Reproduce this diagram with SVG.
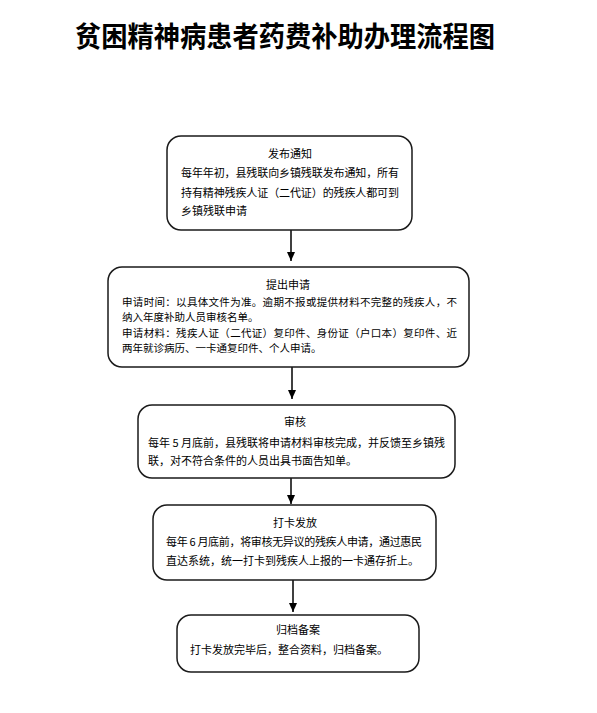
<svg xmlns="http://www.w3.org/2000/svg" width="597" height="713" viewBox="0 0 597 713">
<defs>
<style>
.box{fill:#fff;stroke:#1a1a1a;stroke-width:1.5}
.t{font-family:"Noto Sans CJK SC","Noto Sans CJK JP",sans-serif;font-size:11px;fill:#000}
.s{font-size:10.5px}
.c{text-anchor:middle}
.title{font-family:"Noto Sans CJK SC",sans-serif;font-size:28px;font-weight:bold;fill:#000}
.conn{stroke:#000;stroke-width:1.5;fill:none}
</style>
<marker id="ar" markerUnits="userSpaceOnUse" markerWidth="9" markerHeight="8" refX="9" refY="4" orient="auto" viewBox="0 0 9 8">
<path d="M0,0 L9,4 L0,8 Z" fill="#000"/>
</marker>
</defs>
<rect width="597" height="713" fill="#fff"/>
<text class="title" x="75" y="47" textLength="420" lengthAdjust="spacingAndGlyphs">贫困精神病患者药费补助办理流程图</text>

<g id="connectors">
<line class="conn" x1="291" y1="230" x2="291" y2="261" marker-end="url(#ar)"/>
<line class="conn" x1="292" y1="367" x2="292" y2="399" marker-end="url(#ar)"/>
<line class="conn" x1="291" y1="478" x2="291" y2="504" marker-end="url(#ar)"/>
<line class="conn" x1="293" y1="580" x2="293" y2="612" marker-end="url(#ar)"/>
</g>

<g id="node1">
<rect class="box" x="167" y="136" width="245" height="94" rx="14"/>
<text class="t c" x="290" y="158">发布通知</text>
<text class="t" x="181" y="177" textLength="218" lengthAdjust="spacing">每年年初，县残联向乡镇残联发布通知，所有</text>
<text class="t" x="181" y="197" textLength="218" lengthAdjust="spacing">持有精神残疾人证（二代证）的残疾人都可到</text>
<text class="t" x="181" y="215">乡镇残联申请</text>
</g>

<g id="node2">
<rect class="box" x="108" y="267" width="361" height="100" rx="14"/>
<text class="t c" x="288" y="289">提出申请</text>
<text class="t s" x="122" y="306" textLength="335" lengthAdjust="spacing">申请时间：以具体文件为准。逾期不报或提供材料不完整的残疾人，不</text>
<text class="t s" x="122" y="321">纳入年度补助人员审核名单。</text>
<text class="t s" x="122" y="337" textLength="335" lengthAdjust="spacing">申请材料：残疾人证（二代证）复印件、身份证（户口本）复印件、近</text>
<text class="t s" x="122" y="352">两年就诊病历、一卡通复印件、个人申请。</text>
</g>

<g id="node3">
<rect class="box" x="138" y="405" width="317" height="73" rx="14"/>
<text class="t c" x="295" y="426">审核</text>
<text class="t" x="148" y="447" textLength="297" lengthAdjust="spacing">每年 5 月底前，县残联将申请材料审核完成，并反馈至乡镇残</text>
<text class="t" x="148" y="465">联，对不符合条件的人员出具书面告知单。</text>
</g>

<g id="node4">
<rect class="box" x="153" y="505" width="283" height="75" rx="14"/>
<text class="t c" x="295" y="527">打卡发放</text>
<text class="t" x="166" y="546" textLength="256" lengthAdjust="spacing">每年 6 月底前，将审核无异议的残疾人申请，通过惠民</text>
<text class="t" x="166" y="565">直达系统，统一打卡到残疾人上报的一卡通存折上。</text>
</g>

<g id="node5">
<rect class="box" x="177" y="615" width="242" height="57" rx="14"/>
<text class="t c" x="298" y="634">归档备案</text>
<text class="t" x="190" y="654">打卡发放完毕后，整合资料，归档备案。</text>
</g>
</svg>
